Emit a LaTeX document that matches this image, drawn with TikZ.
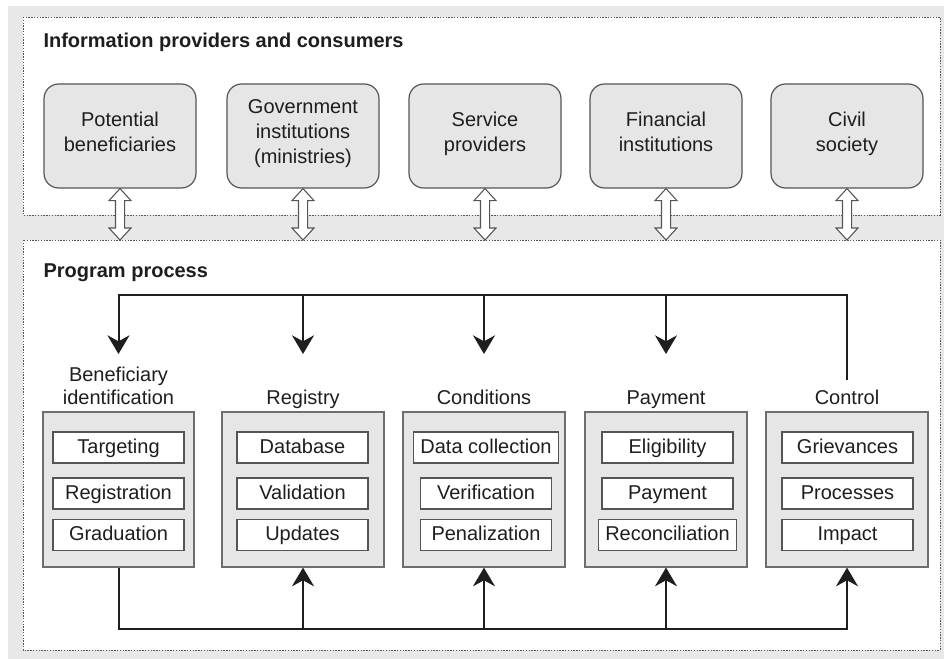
\documentclass[tikz,border=0pt]{standalone}
\usepackage{fontspec}
\setmainfont{Liberation Sans}
\usetikzlibrary{arrows.meta,calc}

\definecolor{panelgrey}{HTML}{E8E8E8}
\definecolor{boxgrey}{HTML}{E6E6E6}
\definecolor{edgegrey}{HTML}{555555}
\definecolor{ink}{HTML}{1E1E1E}

\tikzset{
  every picture/.style={line width=0.75pt},
  frame/.style={draw=edgegrey, fill=white, line width=0.6pt, dash pattern=on 1.1pt off 1pt},
  heading/.style={font=\fontsize{15}{18}\selectfont\bfseries, text=ink, inner sep=0pt, anchor=base west},
  actor/.style={draw=edgegrey, fill=boxgrey, rounded corners=11pt, line width=0.9pt,
    minimum width=114pt, minimum height=78pt, align=center, text=ink, text depth=6pt,
    font=\fontsize{15}{18.75}\selectfont},
  stagebox/.style={draw=edgegrey!85, fill=boxgrey, line width=0.9pt,
    minimum width=121.5pt, minimum height=116.25pt, inner sep=0pt},
  stagetitle/.style={font=\fontsize{15}{17.25}\selectfont, text=ink, align=center,
    anchor=base, inner xsep=2pt, inner ysep=7pt},
  task/.style={draw=edgegrey, fill=white, line width=0.9pt, minimum width=98.25pt,
    minimum height=23.25pt, inner xsep=5pt, inner ysep=0pt, text=ink,
    text height=10.75pt, text depth=2pt, font=\fontsize{15}{18}\selectfont},
  flow/.style={draw=ink, line width=1.5pt, -{Stealth[length=14pt,width=16.5pt,inset=4.5pt]}},
  exchange/.style={draw=edgegrey, fill=white, line width=0.8pt, line join=miter,
    to path={let \p1=(\tikztostart), \p2=(\tikztotarget) in
      (\x1,\y1) -- (\x1-8.25pt,\y1+9pt) -- (\x1-3.4pt,\y1+9pt) -- (\x1-3.4pt,\y2-9pt)
      -- (\x1-8.25pt,\y2-9pt) -- (\x1,\y2) -- (\x1+8.25pt,\y2-9pt) -- (\x1+3.4pt,\y2-9pt)
      -- (\x1+3.4pt,\y1+9pt) -- (\x1+8.25pt,\y1+9pt) -- cycle}},
}

\begin{document}
\begin{tikzpicture}[x=0.75pt,y=0.75pt,yscale=-1,xscale=1]
  \useasboundingbox (0,0) rectangle (944,659);
  % grey page and the two dotted panels
  \fill[panelgrey] (8,6) rectangle (944,659);
  \draw[frame] (23,17) rectangle (940,215);
  \draw[frame] (23,240) rectangle (940,650);
  \coordinate (proctop) at (0,240);
  \coordinate (toprail) at (0,295);
  \coordinate (drop) at (0,354);
  \coordinate (botrail) at (0,629);

  % panel headings
  \node[heading] (infotitle) at (43,48) {Information providers and consumers};
  \node[heading] (proctitle) at (43,277) {Program process};

  % information providers and consumers
  \node[actor] (pb) at (120,136) {Potential\\beneficiaries};
  \node[actor] (gov) at (303,136) {Government\\institutions\\(ministries)};
  \node[actor] (sp) at (485,136) {Service\\providers};
  \node[actor] (fin) at (666,136) {Financial\\institutions};
  \node[actor] (cs) at (847,136) {Civil\\society};

  \foreach \a in {pb,gov,sp,fin,cs}
    \draw[exchange] (\a.south) to (\a.south |- proctop);

  % program stages
  \node[stagebox, minimum width=113.25pt] (ben) at (118.5,489.5) {};
  \node[stagebox] (reg) at (303,489.5) {};
  \node[stagebox] (cond) at (484,489.5) {};
  \node[stagebox] (pay) at (666,489.5) {};
  \node[stagebox] (ctrl) at (847,489.5) {};

  \node[stagetitle] (bentitle) at (118.5,404) {Beneficiary\\identification};
  \node[stagetitle] (regtitle) at (303,404) {Registry};
  \node[stagetitle] (condtitle) at (484,404) {Conditions};
  \node[stagetitle] (paytitle) at (666,404) {Payment};
  \node[stagetitle] (ctrltitle) at (847,404) {Control};

  % tasks of each stage
  \node[task] (ben1) at (118.5,447.5) {Targeting};
  \node[task] (ben2) at (118.5,493.5) {Registration};
  \node[task] (ben3) at (118.5,535) {Graduation};
  \node[task] (reg1) at (302.5,447.5) {Database};
  \node[task] (reg2) at (302.5,493.5) {Validation};
  \node[task] (reg3) at (302.5,535) {Updates};
  \node[task] (cond1) at (486,447.5) {Data collection};
  \node[task] (cond2) at (486,493.5) {Verification};
  \node[task] (cond3) at (486,535) {Penalization};
  \node[task] (pay1) at (667.5,447.5) {Eligibility};
  \node[task] (pay2) at (667.5,493.5) {Payment};
  \node[task] (pay3) at (667.5,535) {Reconciliation};
  \node[task] (ctrl1) at (847.5,447.5) {Grievances};
  \node[task] (ctrl2) at (847.5,493.5) {Processes};
  \node[task] (ctrl3) at (847.5,535) {Impact};

  % feedback from control back to the start
  \draw[flow] (ctrltitle.north) -- (ctrltitle.north |- toprail) -- (ben |- toprail) -- (ben |- drop);
  \foreach \s in {reg,cond,pay}
    \draw[flow] (\s |- toprail) -- (\s |- drop);

  % flow along the bottom
  \draw[flow] (ben.south) -- (ben.south |- botrail) -- (ctrl.south |- botrail) -- (ctrl.south);
  \foreach \s in {reg,cond,pay}
    \draw[flow] (\s.south |- botrail) -- (\s.south);
\end{tikzpicture}
\end{document}
